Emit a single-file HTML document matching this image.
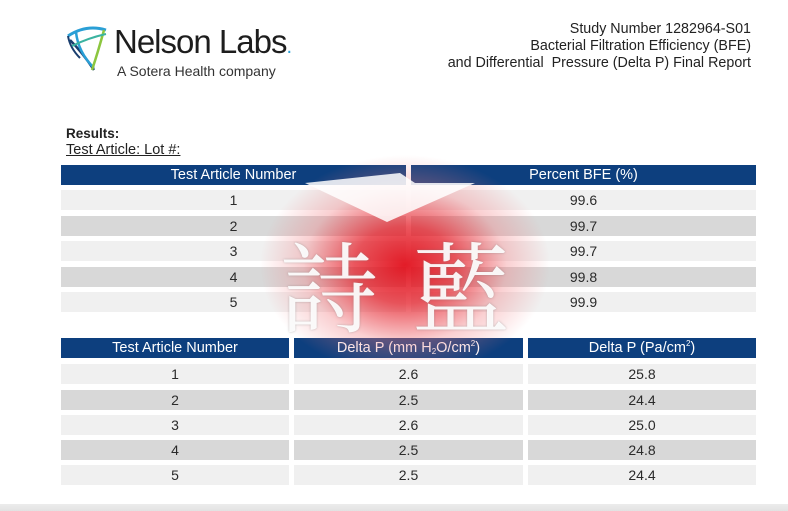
<!DOCTYPE html>
<html><head><meta charset="utf-8"><style>
*{margin:0;padding:0;box-sizing:border-box}
body{width:788px;height:511px;background:#fff;position:relative;overflow:hidden;font-family:"Liberation Sans",Arial,sans-serif;color:#222}
.a{position:absolute}
.h{position:absolute;background:#0d3f7e;color:#fff;font-size:14.5px;text-align:center;line-height:20px;height:20px}
.r{position:absolute;font-size:14px;text-align:center;color:#2a2a2a;height:20px;line-height:20px}
.l{background:#f0f0f0}.d{background:#d8d8d8}
sup{font-size:8px;vertical-align:6px;line-height:0}
sub{font-size:8px;vertical-align:-2px;line-height:0}
</style></head><body>
<!-- logo -->
<svg class="a" style="left:64px;top:22px" width="46" height="52" viewBox="0 0 46 52">
<path d="M4 14 Q22 2 42 8" stroke="#2a9fd6" stroke-width="3" fill="none"/>
<path d="M6 18 Q18 30 30 48" stroke="#1a3e6e" stroke-width="2.5" fill="none"/>
<path d="M12 10 Q14 30 30 46" stroke="#2a9fd6" stroke-width="2.5" fill="none"/>
<path d="M40 8 Q34 30 28 48" stroke="#8cc63f" stroke-width="2.5" fill="none"/>
<path d="M4 14 Q6 26 16 36" stroke="#1a3e6e" stroke-width="2" fill="none"/>
<path d="M8 24 Q24 16 42 12" stroke="#3bb3a0" stroke-width="2" fill="none"/>
</svg>
<div class="a" style="left:114px;top:22px;font-size:33px;color:#1d1d1d;letter-spacing:-1px;line-height:40px">Nelson Labs<span style="color:#2a9fd6;font-size:20px">.</span></div>
<div class="a" style="left:117px;top:62px;font-size:14px;color:#333;line-height:18px">A Sotera Health company</div>
<!-- right header -->
<div class="a" style="right:37px;top:21px;font-size:14.3px;line-height:17px;text-align:right;color:#222">Study Number 1282964-S01<br>Bacterial Filtration Efficiency (BFE)<br>and Differential&nbsp; Pressure (Delta P) Final Report</div>
<div class="a" style="left:66px;top:126px;font-size:13.5px;font-weight:bold;line-height:16px">Results:</div>
<div class="a" style="left:66px;top:142px;font-size:14.5px;line-height:17px;text-decoration:underline">Test Article: Lot #:</div>
<!-- table 1 -->
<div class="h" style="left:61px;top:165px;width:345px">Test Article Number</div>
<div class="h" style="left:411px;top:165px;width:345px">Percent BFE (%)</div>
<div class="r l" style="left:61px;top:190px;width:345px">1</div><div class="r l" style="left:411px;top:190px;width:345px">99.6</div>
<div class="r d" style="left:61px;top:216px;width:345px">2</div><div class="r d" style="left:411px;top:216px;width:345px">99.7</div>
<div class="r l" style="left:61px;top:241px;width:345px">3</div><div class="r l" style="left:411px;top:241px;width:345px">99.7</div>
<div class="r d" style="left:61px;top:267px;width:345px">4</div><div class="r d" style="left:411px;top:267px;width:345px">99.8</div>
<div class="r l" style="left:61px;top:292px;width:345px">5</div><div class="r l" style="left:411px;top:292px;width:345px">99.9</div>
<!-- table 2 -->
<div class="h" style="left:61px;top:338px;width:228px">Test Article Number</div>
<div class="h" style="left:294px;top:338px;width:229px">Delta P (mm H<sub>2</sub>O/cm<sup>2</sup>)</div>
<div class="h" style="left:528px;top:338px;width:228px">Delta P (Pa/cm<sup>2</sup>)</div>
<div class="r l" style="left:61px;top:364px;width:228px">1</div><div class="r l" style="left:294px;top:364px;width:229px">2.6</div><div class="r l" style="left:528px;top:364px;width:228px">25.8</div>
<div class="r d" style="left:61px;top:390px;width:228px">2</div><div class="r d" style="left:294px;top:390px;width:229px">2.5</div><div class="r d" style="left:528px;top:390px;width:228px">24.4</div>
<div class="r l" style="left:61px;top:415px;width:228px">3</div><div class="r l" style="left:294px;top:415px;width:229px">2.6</div><div class="r l" style="left:528px;top:415px;width:228px">25.0</div>
<div class="r d" style="left:61px;top:440px;width:228px">4</div><div class="r d" style="left:294px;top:440px;width:229px">2.5</div><div class="r d" style="left:528px;top:440px;width:228px">24.8</div>
<div class="r l" style="left:61px;top:465px;width:228px">5</div><div class="r l" style="left:294px;top:465px;width:229px">2.5</div><div class="r l" style="left:528px;top:465px;width:228px">24.4</div>
<!-- watermark -->
<div class="a" style="left:250px;top:140px;width:310px;height:220px;background:radial-gradient(ellipse 145px 110px at 155px 125px,rgba(225,16,28,0.95) 0%,rgba(228,30,40,0.75) 35%,rgba(240,120,125,0.35) 70%,rgba(255,255,255,0) 100%)"></div>
<svg class="a" style="left:280px;top:165px" width="240" height="60"><polygon points="25,18 120,8 135,18 195,18 107,57" fill="rgba(255,255,255,0.85)"/></svg>
<div class="a" style="left:280px;top:228px;font-family:'Noto Serif CJK SC','Noto Sans CJK SC',serif;font-size:98px;line-height:110px;color:rgba(255,255,255,0.92);text-shadow:0 0 2px rgba(120,120,120,0.5)">詩</div>
<div class="a" style="left:412px;top:228px;font-family:'Noto Serif CJK SC','Noto Sans CJK SC',serif;font-size:98px;line-height:110px;color:rgba(255,255,255,0.92);text-shadow:0 0 2px rgba(120,120,120,0.5)">藍</div>
<div class="a" style="left:0;top:504px;width:788px;height:7px;background:linear-gradient(#ececec,#e2e2e2)"></div>
</body></html>
